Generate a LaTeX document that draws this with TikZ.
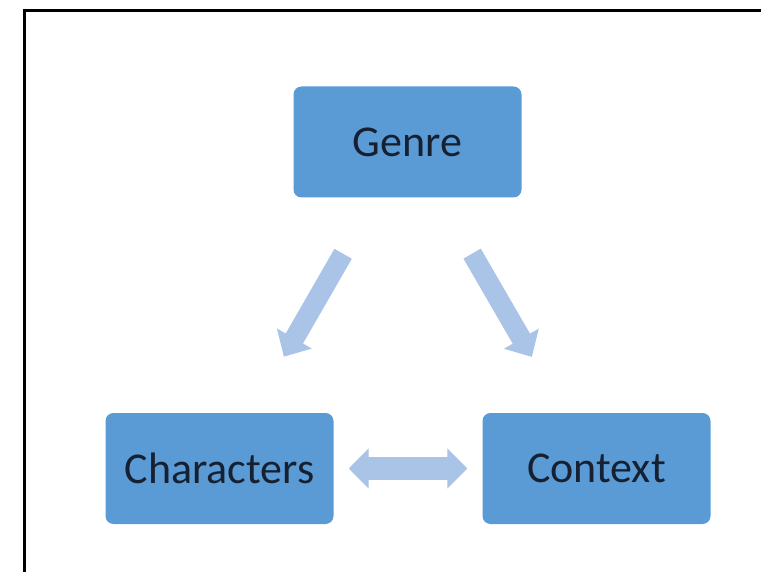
\documentclass[tikz,border=0pt]{standalone}
\usepackage{fontspec}
\setmainfont{Carlito}
\usetikzlibrary{arrows.meta}
\definecolor{boxblue}{RGB}{91,155,213}
\definecolor{arrowblue}{RGB}{169,196,230}
\definecolor{txt}{RGB}{22,32,48}
\begin{document}
\begin{tikzpicture}[x=1pt,y=-1pt,
  box/.style={fill=boxblue, rounded corners=8pt, minimum width=228pt, minimum height=111pt,
    inner sep=0pt, text=txt, font=\fontsize{44}{52}\selectfont},
  fatarrow/.style={draw=arrowblue, line width=20pt, -{Triangle[length=21pt,width=39pt]},
    shorten <=129pt, shorten >=129pt},
  dblarrow/.style={draw=arrowblue, line width=23pt,
    {Triangle[length=20pt,width=39pt]}-{Triangle[length=20pt,width=39pt]},
    shorten <=15pt, shorten >=15pt},
  frame/.style={draw=black, line width=3pt, line join=miter}]
\useasboundingbox (0,0) rectangle (761,572);
\clip (0,0) rectangle (761,572);
\fill[white] (0,0) rectangle (761,572);
\draw[frame] (24,580) -- (24,11) -- (770,11);
\node[box] (g)  at (407.5,142)   {Genre};
\node[box] (ch) at (219.5,468.5) {Characters};
\node[box] (co) at (596.5,468.5) {Context};
\draw[fatarrow] (g.center) -- (ch.center);
\draw[fatarrow] (g.center) -- (co.center);
\draw[dblarrow] (ch.east) -- (co.west);
\end{tikzpicture}
\end{document}
